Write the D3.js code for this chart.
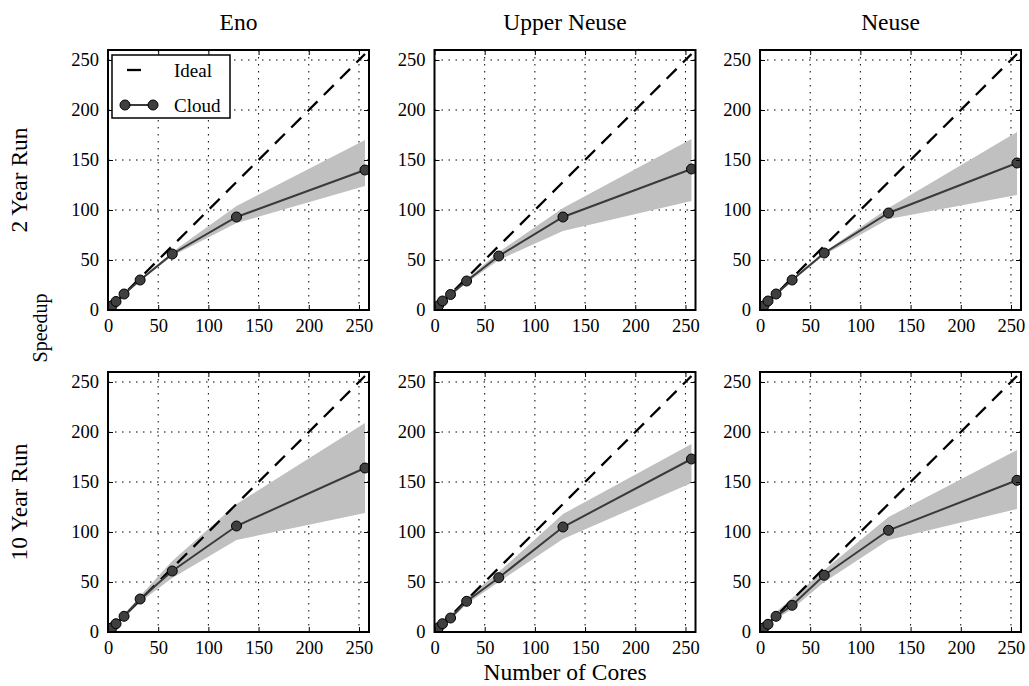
<!DOCTYPE html>
<html>
<head>
<meta charset="utf-8">
<script src="https://cdn.jsdelivr.net/npm/d3@7"></script>
<style>
  body { margin: 0; background: #fff; }
  text { font-family: "Liberation Serif", "Times New Roman", serif; fill: #000; }
</style>
</head>
<body>
<svg id="chart" width="1029" height="686"></svg>
<script>
// number of cores used for every run
var cores = [4, 8, 16, 32, 64, 128, 256];
var tickValues = [0, 50, 100, 150, 200, 250];
var siteNames = ["Eno", "Upper Neuse", "Neuse"];
var runNames = ["2 Year Run", "10 Year Run"];

// 2 year run
var eno2Mean   = [4.3, 8.5, 16, 30, 56, 93, 140];
var eno2Upper  = [4.6, 9, 17, 31, 58, 104, 170];
var eno2Lower  = [4, 8, 15, 29, 54, 87, 124];
var upper2Mean  = [4.3, 9, 15.5, 29, 54, 93, 141];
var upper2Upper = [4.6, 9.5, 17, 31, 58, 102, 171];
var upper2Lower = [4, 8, 14, 27, 50, 79, 109];
var neuse2Mean  = [4.3, 9, 16, 30, 57, 97, 147];
var neuse2Upper = [4.6, 9.5, 17, 31, 58, 102, 178];
var neuse2Lower = [4, 8.5, 15, 29, 55, 91, 115];

// 10 year run
var eno10Mean   = [4.3, 8.3, 15.7, 33, 61, 106, 164];
var eno10Upper  = [4.6, 9, 17.5, 36, 71, 128, 209];
var eno10Lower  = [4, 7.5, 14, 30, 54, 92, 119];
var upper10Mean  = [4.3, 8.3, 14, 30.7, 54.3, 105, 173];
var upper10Upper = [4.6, 9, 17, 34, 60, 118, 188];
var upper10Lower = [4, 7.7, 12, 28, 50, 93, 149];
var neuse10Mean  = [4.3, 7.7, 15.7, 26.7, 56.7, 101.7, 151.7];
var neuse10Upper = [4.6, 8.5, 20, 34, 62, 115, 182];
var neuse10Lower = [4, 7, 13, 23, 50, 92, 123];

var panels = [
  [ {mean: eno2Mean, up: eno2Upper, lo: eno2Lower},
    {mean: upper2Mean, up: upper2Upper, lo: upper2Lower},
    {mean: neuse2Mean, up: neuse2Upper, lo: neuse2Lower} ],
  [ {mean: eno10Mean, up: eno10Upper, lo: eno10Lower},
    {mean: upper10Mean, up: upper10Upper, lo: upper10Lower},
    {mean: neuse10Mean, up: neuse10Upper, lo: neuse10Lower} ]
];

var svg = d3.select("#chart");
var lefts = [108, 434.5, 760],
    tops = [50, 372],
    width = 261,
    height = 260;

var x = d3.scaleLinear().domain([0, 260]).range([0, width]);
var y = d3.scaleLinear().domain([0, 260]).range([height, 0]);

var band = d3.area()
  .x(function(d, i) { return x(cores[i]); })
  .y0(function(d) { return y(d[0]); })
  .y1(function(d) { return y(d[1]); });
var line = d3.line()
  .x(function(d) { return x(d[0]); })
  .y(function(d) { return y(d[1]); });

svg.append("defs").append("clipPath").attr("id", "clip")
  .append("rect").attr("width", width).attr("height", height);

panels.forEach(function(row, r) {
  row.forEach(function(p, c) {
    var g = svg.append("g").attr("transform", "translate(" + lefts[c] + "," + tops[r] + ")");
    var plot = g.append("g").attr("clip-path", "url(#clip)");

    // dotted grid
    plot.selectAll(".gx").data(tickValues.slice(1)).enter().append("line")
      .attr("x1", function(d) { return x(d); }).attr("x2", function(d) { return x(d); })
      .attr("y1", 0).attr("y2", height)
      .attr("stroke", "#000").attr("stroke-width", 1).attr("stroke-dasharray", "1.5,5.5");
    plot.selectAll(".gy").data(tickValues.slice(1)).enter().append("line")
      .attr("y1", function(d) { return y(d); }).attr("y2", function(d) { return y(d); })
      .attr("x1", 0).attr("x2", width)
      .attr("stroke", "#000").attr("stroke-width", 1).attr("stroke-dasharray", "1.5,5.5");

    // spread band
    plot.append("path")
      .attr("d", band(p.lo.map(function(v, i) { return [v, p.up[i]]; })))
      .attr("fill", "#c0c0c0");

    // ideal speedup
    plot.append("path")
      .attr("d", line(cores.map(function(v) { return [v, v]; })))
      .attr("fill", "none").attr("stroke", "#000").attr("stroke-width", 2.3)
      .attr("stroke-dasharray", "14,9");

    // measured
    var pts = cores.map(function(v, i) { return [v, p.mean[i]]; });
    plot.append("path").attr("d", line(pts))
      .attr("fill", "none").attr("stroke", "#3a3a3a").attr("stroke-width", 2);
    plot.selectAll("circle").data(pts).enter().append("circle")
      .attr("cx", function(d) { return x(d[0]); })
      .attr("cy", function(d) { return y(d[1]); })
      .attr("r", 5).attr("fill", "#3f3f3f").attr("stroke", "#000").attr("stroke-width", 1);

    // axes, ticks point inward
    var ax = [
      g.append("g").attr("transform", "translate(0," + height + ")")
        .call(d3.axisBottom(x).tickValues(tickValues).tickSize(-5).tickPadding(9)),
      g.append("g")
        .call(d3.axisLeft(y).tickValues(tickValues).tickSize(-5).tickPadding(9)),
      g.append("g")
        .call(d3.axisTop(x).tickValues(tickValues).tickSize(-5).tickFormat("")),
      g.append("g").attr("transform", "translate(" + width + ",0)")
        .call(d3.axisRight(y).tickValues(tickValues).tickSize(-5).tickFormat(""))
    ];
    ax.forEach(function(a) {
      a.select(".domain").remove();
      a.selectAll("line").attr("stroke", "#000").attr("stroke-width", 1);
      a.selectAll("text").style("font-family", '"Liberation Serif", serif')
        .style("font-size", "18.5px").attr("fill", "#000");
    });

    g.append("rect").attr("width", width).attr("height", height)
      .attr("fill", "none").attr("stroke", "#000").attr("stroke-width", 2);

    if (r === 0) {
      svg.append("text").attr("x", lefts[c] + width / 2).attr("y", 30)
        .attr("text-anchor", "middle").style("font-size", "23.5px").text(siteNames[c]);
    }

    if (r === 0 && c === 0) {
      var lg = g.append("g");
      lg.append("rect").attr("x", 4).attr("y", 5).attr("width", 118).attr("height", 63)
        .attr("fill", "#fff").attr("stroke", "#000").attr("stroke-width", 1.5);
      lg.append("line").attr("x1", 19).attr("x2", 33).attr("y1", 20).attr("y2", 20)
        .attr("stroke", "#000").attr("stroke-width", 2.3);
      lg.append("line").attr("x1", 17).attr("x2", 45).attr("y1", 55).attr("y2", 55)
        .attr("stroke", "#3a3a3a").attr("stroke-width", 2);
      [17, 45].forEach(function(cx) {
        lg.append("circle").attr("cx", cx).attr("cy", 55).attr("r", 5)
          .attr("fill", "#3f3f3f").attr("stroke", "#000").attr("stroke-width", 1);
      });
      lg.append("text").attr("x", 66).attr("y", 27).style("font-size", "19px").text("Ideal");
      lg.append("text").attr("x", 66).attr("y", 62).style("font-size", "19px").text("Cloud");
    }
  });
});

// row labels and shared axis labels
runNames.forEach(function(name, r) {
  svg.append("text")
    .attr("transform", "translate(19," + (tops[r] + height / 2) + ") rotate(-90)")
    .attr("text-anchor", "middle").attr("dy", "0.35em")
    .style("font-size", "23.5px").text(name);
});
svg.append("text")
  .attr("transform", "translate(40,328) rotate(-90)")
  .attr("text-anchor", "middle").attr("dy", "0.35em")
  .style("font-size", "20px").text("Speedup");
svg.append("text").attr("x", 565).attr("y", 680)
  .attr("text-anchor", "middle").style("font-size", "23.5px").text("Number of Cores");
</script>
</body>
</html>
